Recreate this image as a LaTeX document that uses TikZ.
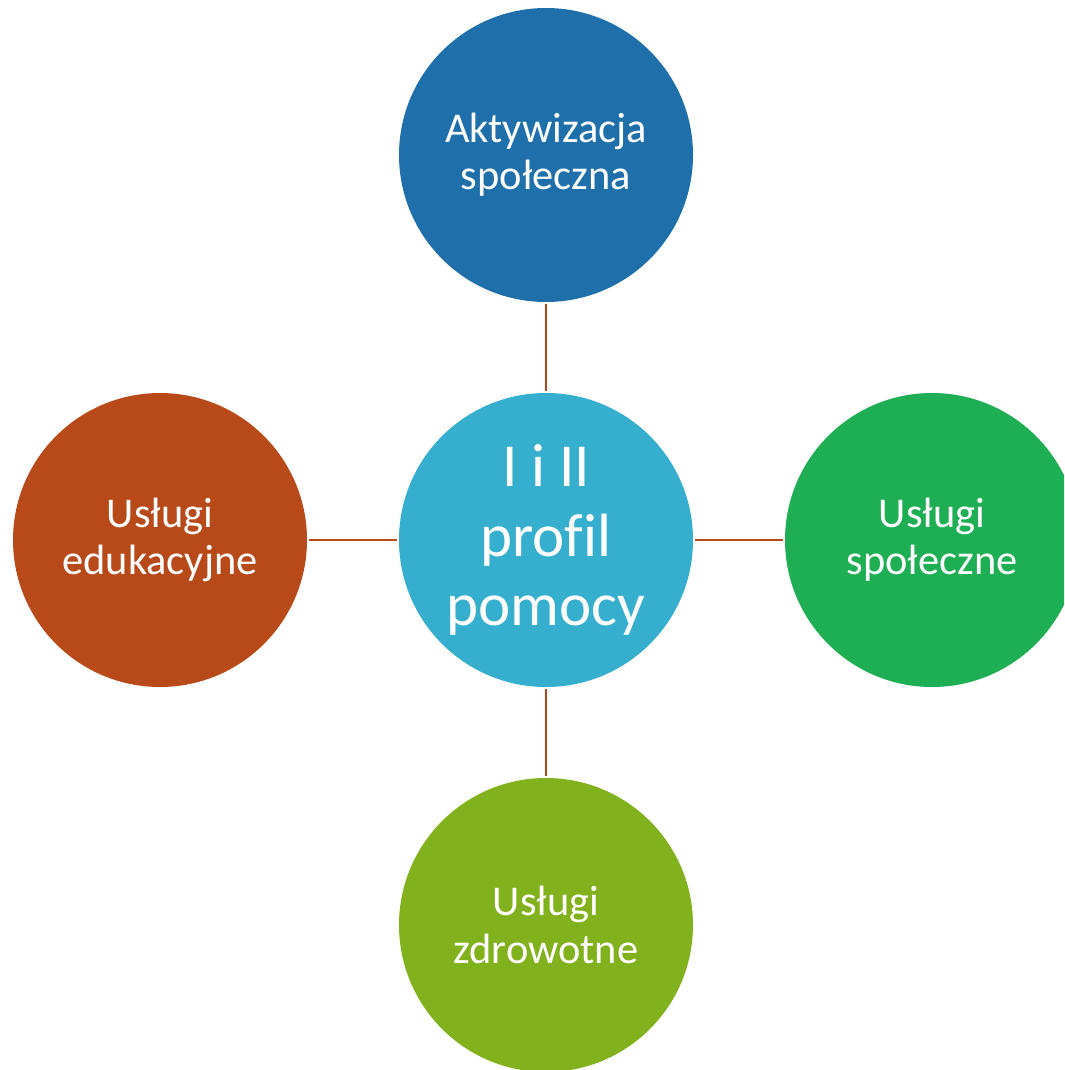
\documentclass[tikz,border=0pt]{standalone}
\usepackage{fontspec}
\setmainfont[Ligatures=NoCommon]{Carlito}
\definecolor{ctop}{RGB}{31,112,170}
\definecolor{ccen}{RGB}{54,175,206}
\definecolor{cleft}{RGB}{184,74,26}
\definecolor{cright}{RGB}{30,174,84}
\definecolor{cbot}{RGB}{129,178,29}
\definecolor{cline}{RGB}{181,72,30}
\tikzset{
  bub/.style={circle, minimum size=220.5pt, inner sep=0pt, text=white, align=center,
    font=\fontsize{31.8pt}{35.5pt}\selectfont},
  link/.style={draw=cline, line width=2pt, shorten <=1.5pt, shorten >=1.5pt}
}
\begin{document}
\begin{tikzpicture}[x=0.75pt,y=-0.75pt]
\useasboundingbox (0,0) rectangle (1064,1070);
\clip (0,0) rectangle (1064,1070);
\node[bub, fill=ctop] (top) at (546,155) {Aktywizacja\\społeczna};
\node[bub, fill=ccen, font=\fontsize{45.8pt}{52pt}\selectfont] (cen) at (546,540) {I i II\\profil\\pomocy};
\node[bub, fill=cleft] (left) at (160,540) {Usługi\\edukacyjne};
\node[bub, fill=cright] (right) at (932,540) {Usługi\\społeczne};
\node[bub, fill=cbot] (bot) at (546,925) {Usługi\\zdrowotne};
\draw[link] (top.south) -- (cen.north);
\draw[link] (left.east) -- (cen.west);
\draw[link] (cen.east) -- (right.west);
\draw[link] (cen.south) -- (bot.north);
\end{tikzpicture}
\end{document}
